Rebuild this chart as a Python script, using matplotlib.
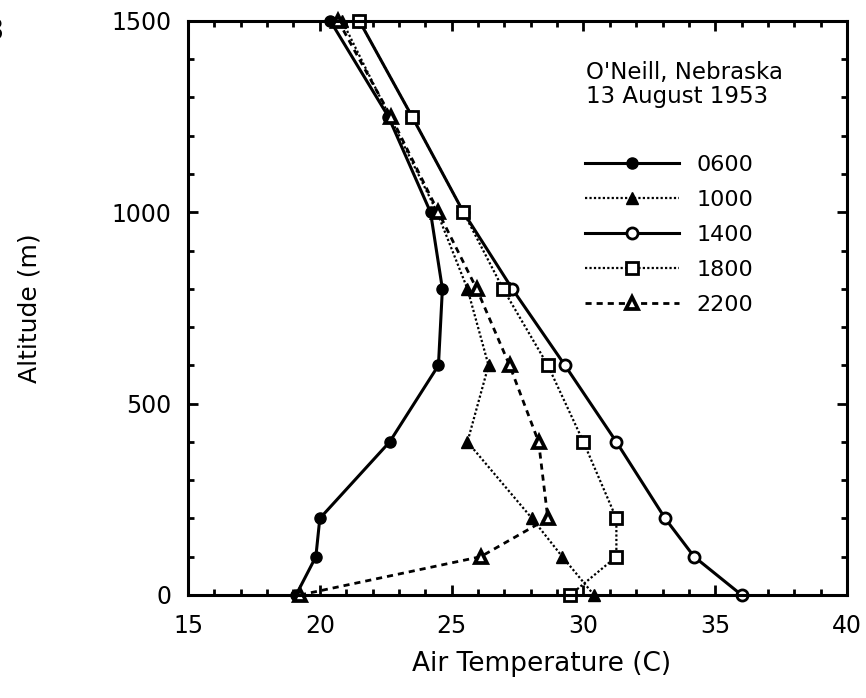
import matplotlib.pyplot as plt
from matplotlib.ticker import MultipleLocator

# altitude levels (m) and air temperature (C) for each sounding time
alt = [0, 100, 200, 400, 600, 800, 1000, 1250, 1500]
t0600 = [19.1, 19.85, 20.0, 22.65, 24.5, 24.65, 24.2, 22.6, 20.4]
t1000 = [30.4, 29.2, 28.05, 25.6, 26.4, 25.6, 24.45, 22.65, 20.85]
t1400 = [36.0, 34.2, 33.1, 31.25, 29.3, 27.3, 25.45, 23.5, 21.5]
t1800 = [29.5, 31.25, 31.25, 30.0, 28.65, 26.95, 25.45, 23.5, 21.5]
t2200 = [19.25, 26.1, 28.65, 28.3, 27.2, 25.95, 24.5, 22.7, 20.7]
labels = ['0600', '1000', '1400', '1800', '2200']

plt.rcParams['font.family'] = 'DejaVu Sans'

fig = plt.figure(figsize=(8.66, 6.98), dpi=100)
ax = fig.add_axes([0.2171, 0.1476, 0.7610, 0.8224])

ax.plot(t0600, alt, color='black', lw=2.2, ls='-', marker='o', ms=8,
        mfc='black', mec='black', label=labels[0], clip_on=False)
ax.plot(t1000, alt, color='black', lw=1.6, ls=(0, (1, 1)), marker='^', ms=8.5,
        mfc='black', mec='black', label=labels[1], clip_on=False)
ax.plot(t1400, alt, color='black', lw=2.2, ls='-', marker='o', ms=8,
        mfc='white', mec='black', mew=2, label=labels[2], clip_on=False)
ax.plot(t1800, alt, color='black', lw=1.6, ls=(0, (1, 1)), marker='s', ms=8,
        mfc='white', mec='black', mew=2, label=labels[3], clip_on=False)
ax.plot(t2200, alt, color='black', lw=2, ls=(0, (2.2, 1.8)), marker='^', ms=8.5,
        mfc='white', mec='black', mew=2.7, label=labels[4], clip_on=False)

ax.set_xlim(15, 40)
ax.set_ylim(0, 1500)
ax.xaxis.set_major_locator(MultipleLocator(5))
ax.xaxis.set_minor_locator(MultipleLocator(1))
ax.yaxis.set_major_locator(MultipleLocator(500))
ax.yaxis.set_minor_locator(MultipleLocator(100))
ax.tick_params(which='both', direction='in', top=True, right=True, width=2)
ax.tick_params(which='major', length=7, labelsize=17)
ax.tick_params(which='minor', length=4)
ax.tick_params(axis='x', which='major', pad=14)
ax.tick_params(axis='y', which='major', pad=12)
for s in ax.spines.values():
    s.set_linewidth(2.2)

ax.set_xlabel('Air Temperature (C)', fontsize=19)
ax.set_ylabel('Altitude (m)', fontsize=18)
ax.xaxis.set_label_coords(0.537, -0.098)
ax.yaxis.set_label_coords(-0.222, 0.5)

ax.text(0.604, 0.911, "O'Neill, Nebraska", transform=ax.transAxes,
        fontsize=16.5, va='center', ha='left')
ax.text(0.604, 0.868, "13 August 1953", transform=ax.transAxes,
        fontsize=16.5, va='center', ha='left')

ax.legend(loc='upper left', bbox_to_anchor=(0.603, 0.767), frameon=False,
          fontsize=16, handlelength=4.2, handletextpad=0.8, labelspacing=0.68,
          borderpad=0, borderaxespad=0)

# cropped figure number at the left edge
fig.text(0.005, 0.955, '3', fontsize=22, ha='right', va='center')

fig.savefig('out.png', dpi=100)
